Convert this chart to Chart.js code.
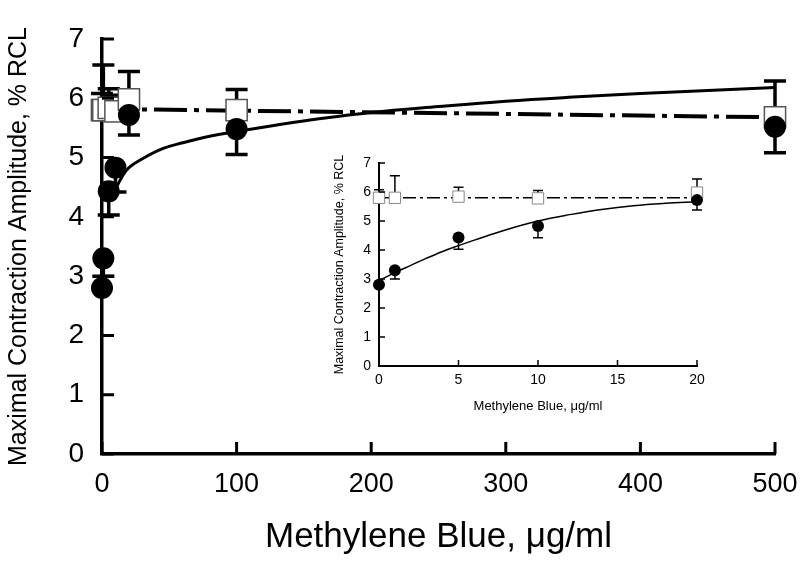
<!DOCTYPE html>
<html>
<head>
<meta charset="utf-8">
<script src="https://cdn.jsdelivr.net/npm/chart.js@4.4.1/dist/chart.umd.min.js"></script>
<style>
  html, body { margin: 0; padding: 0; background: #fff; }
  #wrap { position: relative; width: 800px; height: 562px; }
  #mainChart { position: absolute; left: 0; top: 0; }
  #insetChart { position: absolute; left: 328px; top: 150px; }
</style>
</head>
<body>
<div id="wrap">
  <canvas id="mainChart" width="800" height="562"></canvas>
  <canvas id="insetChart" width="385" height="268"></canvas>
</div>
<script>
// Methylene blue doses (ug/ml)
const doseMain = [0, 1, 5, 10, 20, 100, 500];
const doseInset = [0, 1, 5, 10, 20];

// filled circles + lower error
const circleY = [2.8, 3.3, 4.43, 4.83, 5.72, 5.48, 5.52];
const circleLow = [2.8, 3.0, 4.03, 4.42, 5.38, 5.05, 5.08];

// open squares + upper error
const squareY = [5.8, 5.8, 5.84, 5.78, 5.98, 5.8, 5.68];
const squareHigh = [6.08, 6.56, 6.16, 6.05, 6.45, 6.15, 6.29];

// fitted curves
const fitMainX = [9, 15, 20, 30, 45, 60, 80, 100, 130, 160, 200, 250, 300, 350, 400, 450, 500];
const fitMainY = [4.42, 4.68, 4.83, 4.98, 5.15, 5.25, 5.36, 5.44, 5.55, 5.65, 5.76, 5.86, 5.95, 6.02, 6.08, 6.13, 6.18];
const fitInsetX = [0, 1, 2, 3, 4, 5, 6, 8, 10, 12, 14, 16, 18, 20];
const fitInsetY = [2.95, 3.22, 3.47, 3.72, 3.95, 4.15, 4.34, 4.7, 5.0, 5.22, 5.4, 5.53, 5.61, 5.66];
const flatMainX = [0, 500];
const flatMainY = [5.82, 5.68];
const flatInsetX = [0, 20];
const flatInsetY = [5.8, 5.8];

const yTicks = [0, 1, 2, 3, 4, 5, 6, 7];

function pts(xs, ys) {
    return xs.map((x, i) => ({ x: x, y: ys[i] }));
}

// error bars, drawn before the markers so filled circles hide the stem
const errorBars = {
    id: 'errorBars',
    beforeDatasetsDraw(chart, args, opts) {
        const ctx = chart.ctx;
        const xs = chart.scales.x, ys = chart.scales.y;
        ctx.save();
        ctx.strokeStyle = '#000';
        ctx.lineWidth = opts.width;
        chart.data.datasets.forEach(ds => {
            if (!ds.errTo) return;
            ds.data.forEach((p, i) => {
                const px = xs.getPixelForValue(p.x);
                const py = ys.getPixelForValue(p.y);
                const pe = ys.getPixelForValue(ds.errTo[i]);
                if (Math.abs(pe - py) < 1) return;
                ctx.beginPath();
                ctx.moveTo(px, py);
                ctx.lineTo(px, pe);
                ctx.moveTo(px - opts.cap / 2, pe);
                ctx.lineTo(px + opts.cap / 2, pe);
                ctx.stroke();
            });
        });
        ctx.restore();
    }
};

// inward tick marks on both axes
const innerTicks = {
    id: 'innerTicks',
    afterDraw(chart, args, opts) {
        const ctx = chart.ctx;
        const xs = chart.scales.x, ys = chart.scales.y;
        const a = chart.chartArea;
        ctx.save();
        ctx.strokeStyle = '#000';
        ctx.lineWidth = opts.width;
        ctx.beginPath();
        xs.ticks.forEach(t => {
            const px = xs.getPixelForValue(t.value);
            ctx.moveTo(px, a.bottom);
            ctx.lineTo(px, a.bottom - opts.len);
        });
        ys.ticks.forEach(t => {
            const py = ys.getPixelForValue(t.value);
            ctx.moveTo(a.left, py);
            ctx.lineTo(a.left + opts.len, py);
        });
        ctx.stroke();
        ctx.restore();
    }
};

function makeChart(id, cfg) {
    const big = cfg.big;
    return new Chart(document.getElementById(id), {
        type: 'scatter',
        data: {
            datasets: [
                {
                    data: pts(cfg.dose, cfg.cy),
                    errTo: cfg.clow,
                    pointStyle: 'circle',
                    pointRadius: big ? 11 : 6,
                    backgroundColor: '#000',
                    borderColor: '#000',
                    borderWidth: 0,
                    clip: false,
                    order: 1
                },
                {
                    data: pts(cfg.dose, cfg.sy),
                    errTo: cfg.shigh,
                    pointStyle: 'rect',
                    pointRadius: big ? 15 : 8,
                    backgroundColor: '#fff',
                    borderColor: big ? '#555' : '#888',
                    borderWidth: big ? 1.5 : 1,
                    clip: false,
                    order: 2
                },
                {
                    type: 'line',
                    data: pts(cfg.fitX, cfg.fitY),
                    borderColor: '#000',
                    borderWidth: big ? 3 : 1.5,
                    pointRadius: 0,
                    tension: 0.4,
                    fill: false,
                    order: 3
                },
                {
                    type: 'line',
                    data: pts(cfg.flatX, cfg.flatY),
                    borderColor: '#000',
                    borderWidth: big ? 4 : 1.5,
                    borderDash: big ? [33, 7, 5, 7] : [13, 4, 3, 4],
                    pointRadius: 0,
                    fill: false,
                    order: 4
                }
            ]
        },
        plugins: [errorBars, innerTicks],
        options: {
            responsive: false,
            animation: false,
            events: [],
            layout: { padding: cfg.pad },
            plugins: {
                legend: { display: false },
                tooltip: { enabled: false },
                errorBars: { width: big ? 3.5 : 1.5, cap: big ? 22 : 10 },
                innerTicks: { width: big ? 3 : 1.5, len: big ? 12 : 6 }
            },
            scales: {
                x: {
                    type: 'linear',
                    min: 0,
                    max: cfg.xMax,
                    afterBuildTicks: s => { s.ticks = cfg.xTicks.map(v => ({ value: v })); },
                    grid: { drawOnChartArea: false, drawTicks: false },
                    border: { display: true, color: '#000', width: big ? 3.5 : 2 },
                    ticks: {
                        color: '#000',
                        padding: big ? 14 : 6,
                        maxRotation: 0,
                        font: { family: cfg.font, size: big ? 27 : 14 }
                    },
                    title: {
                        display: true,
                        text: 'Methylene Blue, \u03bcg/ml',
                        color: '#000',
                        padding: { top: big ? 30 : 6 },
                        font: { family: cfg.font, size: big ? 35 : 13 }
                    },
                    afterFit: s => {
                        s.height = cfg.xH;
                        s.paddingLeft = 0;
                        s.paddingRight = 0;
                    }
                },
                y: {
                    type: 'linear',
                    min: 0,
                    max: 7,
                    afterBuildTicks: s => { s.ticks = yTicks.map(v => ({ value: v })); },
                    grid: { drawOnChartArea: false, drawTicks: false },
                    border: { display: true, color: '#000', width: big ? 3.5 : 2 },
                    ticks: {
                        color: '#000',
                        padding: big ? 18 : 8,
                        font: { family: cfg.font, size: big ? 28 : 14 }
                    },
                    title: {
                        display: true,
                        text: 'Maximal Contraction Amplitude, % RCL',
                        color: '#000',
                        padding: { bottom: big ? 4 : 2 },
                        font: { family: cfg.font, size: big ? 25 : 12.5 }
                    },
                    afterFit: s => {
                        s.width = cfg.yW;
                        s.paddingTop = 0;
                        s.paddingBottom = 0;
                    }
                }
            }
        }
    });
}

makeChart('mainChart', {
    big: true,
    dose: doseMain, cy: circleY, clow: circleLow, sy: squareY, shigh: squareHigh,
    fitX: fitMainX, fitY: fitMainY, flatX: flatMainX, flatY: flatMainY,
    xMax: 500, xTicks: [0, 100, 200, 300, 400, 500],
    pad: { left: 0, top: 39, right: 25, bottom: 0 },
    xH: 108, yW: 102,
    font: "'Liberation Sans', Arial, sans-serif"
});

makeChart('insetChart', {
    big: false,
    dose: doseInset,
    cy: circleY.slice(0, 5), clow: circleLow.slice(0, 5),
    sy: squareY.slice(0, 5), shigh: squareHigh.slice(0, 5),
    fitX: fitInsetX, fitY: fitInsetY, flatX: flatInsetX, flatY: flatInsetY,
    xMax: 20, xTicks: [0, 5, 10, 15, 20],
    pad: { left: 0, top: 13, right: 16, bottom: 0 },
    xH: 52, yW: 51,
    font: "'Liberation Sans', Arial, sans-serif"
});
</script>
</body>
</html>
